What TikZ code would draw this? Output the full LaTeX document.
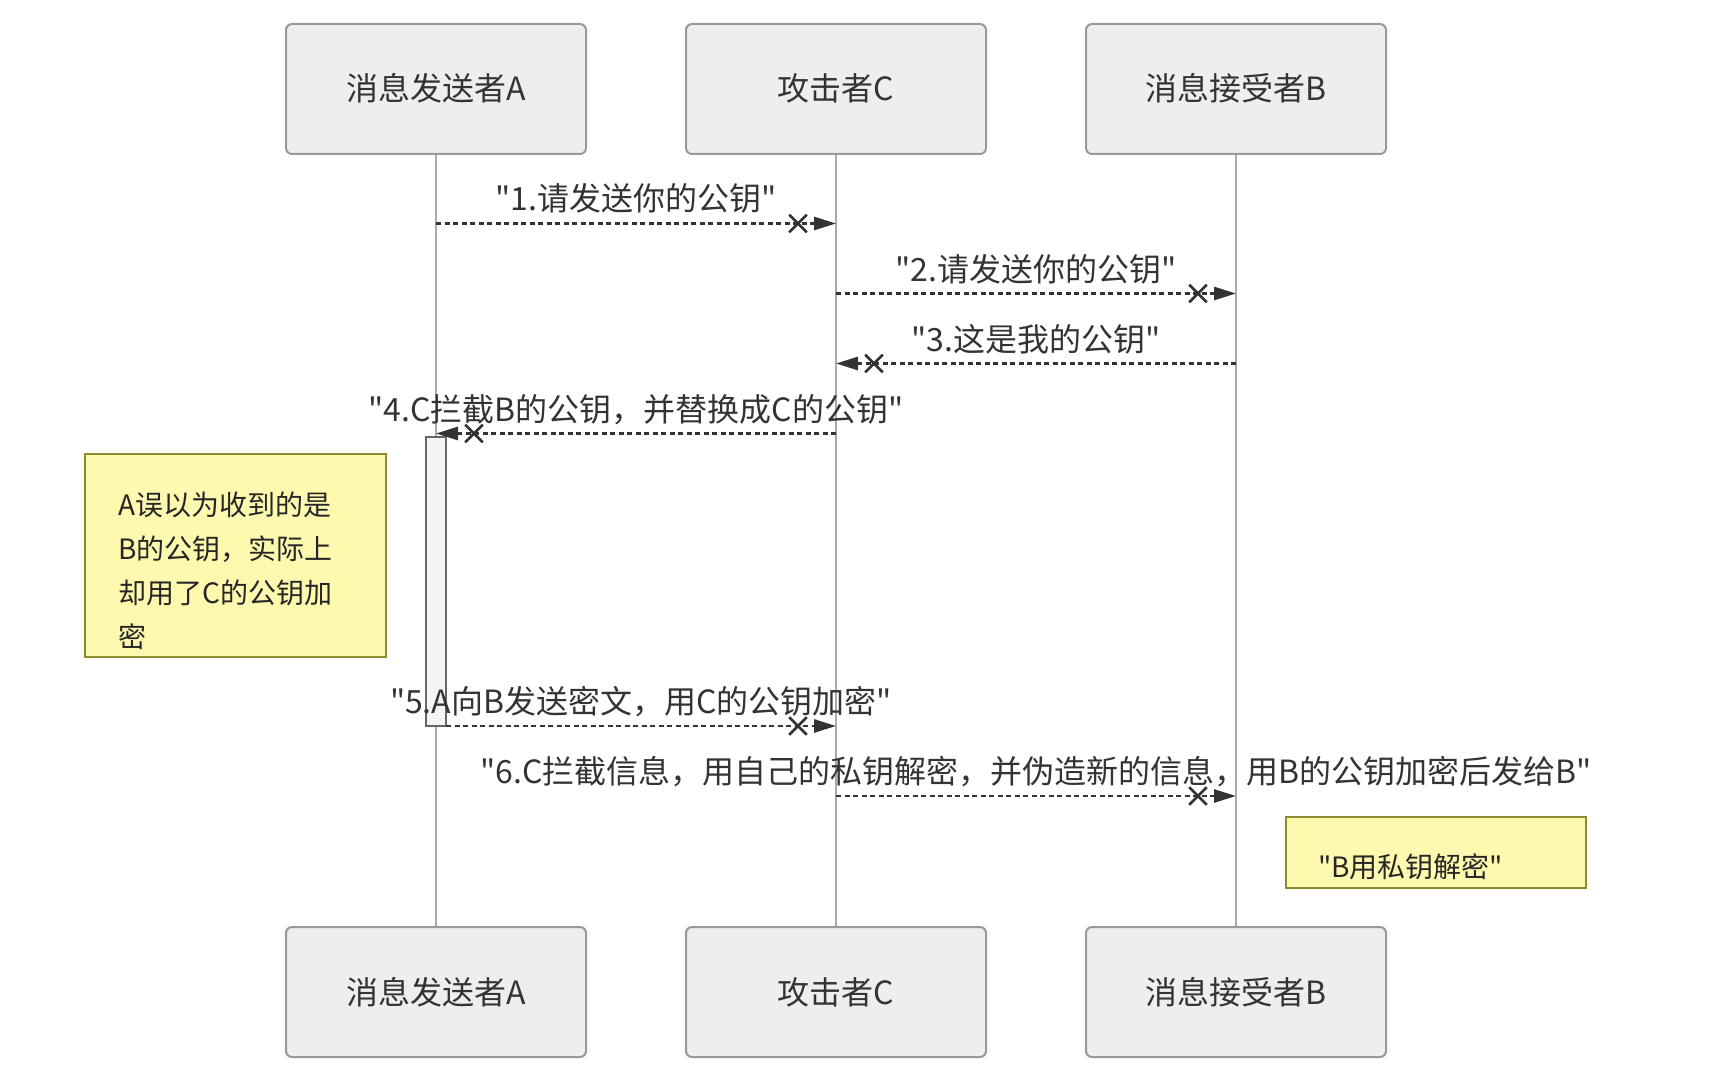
\documentclass[tikz,border=0pt]{standalone}
\usepackage{fontspec}
\setmainfont{Noto Sans CJK SC}[Ligatures=TeXOff]
\usetikzlibrary{arrows.meta,calc,shapes.misc}
\definecolor{txt}{HTML}{333333}
\definecolor{actorfill}{HTML}{EEEEEE}
\definecolor{actorline}{HTML}{999999}
\definecolor{lifec}{HTML}{AAAAAA}
\definecolor{msgc}{HTML}{333333}
\definecolor{notefill}{HTML}{FFF9AF}
\definecolor{noteline}{HTML}{8E8A2E}
\definecolor{actfill}{HTML}{F4F4F4}
\definecolor{actline}{HTML}{666666}
\begin{document}
\begin{tikzpicture}[x=1pt,y=-1pt,
  actor/.style={draw=actorline, fill=actorfill, rounded corners=6pt, line width=2pt,
    minimum width=300pt, minimum height=130pt, inner sep=0pt, text=txt,
    font=\fontsize{32}{38}\selectfont, text height=24pt, text depth=0pt},
  lifeline/.style={draw=lifec, line width=2pt},
  msg/.style={draw=msgc, line width=2.8pt, dash pattern=on 5pt off 3.5pt,
    -{Triangle[length=22pt,width=13pt]}},
  xmark/.style={draw=msgc, cross out, line width=2.6pt, minimum size=15pt, inner sep=0pt, solid},
  msglabel/.style={text=txt, font=\fontsize{32}{38}\selectfont, inner sep=0pt, anchor=base},
  notebox/.style={draw=noteline, fill=notefill, line width=2pt},
  notetext/.style={text=black!85, font=\fontsize{28}{34}\selectfont, inner sep=0pt, anchor=base west},
  actbox/.style={draw=actline, fill=actfill, line width=2pt}
]
\useasboundingbox (0,0) rectangle (1712,1078);

% actors
\node[actor] (A) at (436,89) {消息发送者A};
\node[actor] (C) at (836,89) {攻击者C};
\node[actor] (B) at (1236,89) {消息接受者B};
\node[actor] (A2) at (436,992) {消息发送者A};
\node[actor] (C2) at (836,992) {攻击者C};
\node[actor] (B2) at (1236,992) {消息接受者B};

% lifelines
\draw[lifeline] (A.south) -- (A2.north);
\draw[lifeline] (C.south) -- (C2.north);
\draw[lifeline] (B.south) -- (B2.north);

% activation
\node[actbox, minimum width=20pt, minimum height=289pt, inner sep=0pt] (act) at (436,581.5) {};

% note 1
\node[notebox, minimum width=301pt, minimum height=203pt, inner sep=0pt] (note1) at (235.5,555.5) {};
\node[notetext] (n1a) at (118,515.5) {A误以为收到的是};
\node[notetext] (n1b) at (118,559) {B的公钥，实际上};
\node[notetext] (n1c) at (118,603) {却用了C的公钥加};
\node[notetext] (n1d) at (118,647.5) {密};

% note 2
\node[notebox, minimum width=300pt, minimum height=71pt, inner sep=0pt] (note2) at (1436,852.5) {};
\node[notetext] (n2) at (1318,877) {"B用私钥解密"};

% message endpoints
\coordinate (m1s) at (436,223.5); \coordinate (m1e) at (836,223.5);
\coordinate (m2s) at (836,293.5); \coordinate (m2e) at (1236,293.5);
\coordinate (m3s) at (1236,363.5); \coordinate (m3e) at (836,363.5);
\coordinate (m4s) at (836,433.5); \coordinate (m4e) at (436,433.5);
\coordinate (m5s) at (446,726); \coordinate (m5e) at (836,726);
\coordinate (m6s) at (836,796); \coordinate (m6e) at (1236,796);

\foreach \m in {1,...,6}{
  \draw[msg] (m\m s) -- (m\m e);
  \node[xmark] at ($(m\m e)!38pt!(m\m s)$) {};
}

% labels
\node[msglabel] (l1) at (636,211) {"1.请发送你的公钥"};
\node[msglabel] (l2) at (1036,281) {"2.请发送你的公钥"};
\node[msglabel] (l3) at (1036,351) {"3.这是我的公钥"};
\node[msglabel] (l4) at (636,421) {"4.C拦截B的公钥，并替换成C的公钥"};
\node[msglabel] (l5) at (641,713) {"5.A向B发送密文，用C的公钥加密"};
\node[msglabel] (l6) at (1036,783) {"6.C拦截信息，用自己的私钥解密，并伪造新的信息，用B的公钥加密后发给B"};
\end{tikzpicture}
\end{document}
